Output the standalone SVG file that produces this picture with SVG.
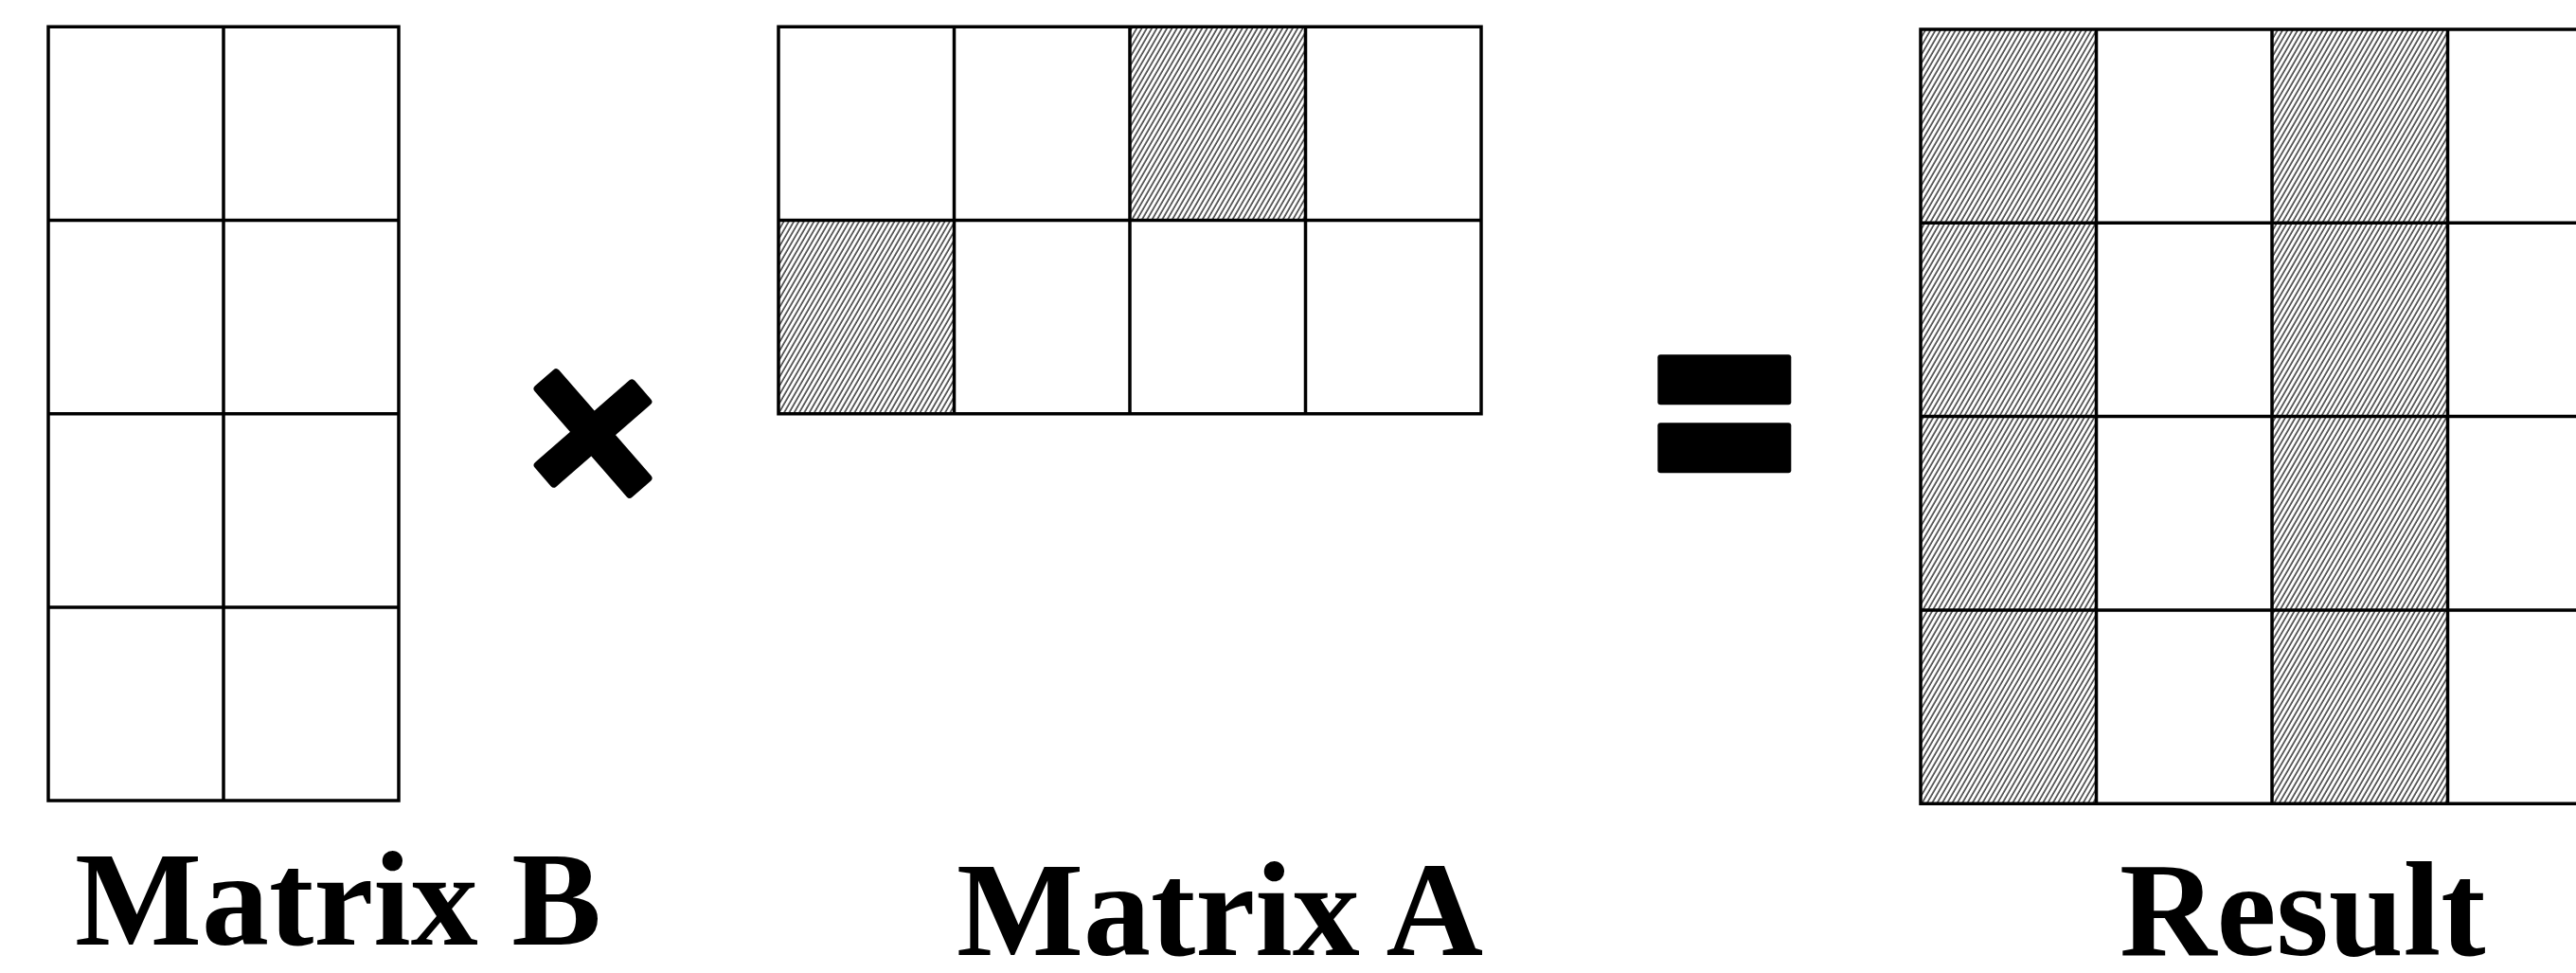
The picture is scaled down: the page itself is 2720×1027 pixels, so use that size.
<svg xmlns="http://www.w3.org/2000/svg" width="2720" height="1027" viewBox="0 0 2720 1027">
<defs>
<pattern id="hatch" patternUnits="userSpaceOnUse" width="4.6" height="10" patternTransform="rotate(30)">
<line x1="1" y1="-2" x2="1" y2="12" stroke="#000" stroke-width="1.2"/>
</pattern>
<style>
.grid{fill:none;stroke:#000;stroke-width:3.5;stroke-linecap:square}
.hat{fill:url(#hatch);stroke:none}
.sym{fill:#000}
.lbl{font-family:"Liberation Serif","Times New Roman",serif;font-weight:bold;font-size:142px;fill:#000}
</style>
</defs>
<rect width="2720" height="1027" fill="#fff"/>
<g id="matrixB">
<path class="grid" d="M51 28.3H421V845.1H51Z M236 28.3V845.1 M51 232.5H421 M51 436.7H421 M51 640.9H421"/>
<text class="lbl" x="79" y="997">Matrix B</text>
</g>
<g id="times">
<rect class="sym" x="-78" y="-17" width="156" height="34" rx="4" transform="translate(626,457.5) rotate(48.9)"/>
<rect class="sym" x="-70" y="-17" width="140" height="34" rx="4" transform="translate(626,457.5) rotate(-41)"/>
</g>
<g id="matrixA">
<rect class="hat" x="1193" y="28.3" width="185.5" height="204.2"/>
<rect class="hat" x="822" y="232.5" width="185.5" height="204.2"/>
<path class="grid" d="M822 28.3H1564V436.7H822Z M1007.5 28.3V436.7 M1193 28.3V436.7 M1378.5 28.3V436.7 M822 232.5H1564"/>
<text class="lbl" x="1010" y="1008">Matrix A</text>
</g>
<g id="equals">
<rect class="sym" x="1750.3" y="374.3" width="141" height="53" rx="3"/>
<rect class="sym" x="1750.3" y="446.3" width="141" height="53" rx="3"/>
</g>
<g id="result">
<rect class="hat" x="2028" y="31" width="185.5" height="817.2"/>
<rect class="hat" x="2399" y="31" width="185.5" height="817.2"/>
<path class="grid" d="M2770 31H2028V848.2H2770 M2213.5 31V848.2 M2399 31V848.2 M2584.5 31V848.2 M2028 235.3H2770 M2028 439.6H2770 M2028 643.9H2770"/>
<text class="lbl" x="2238" y="1008">Result</text>
</g>
<g id="connectors"></g>
</svg>
